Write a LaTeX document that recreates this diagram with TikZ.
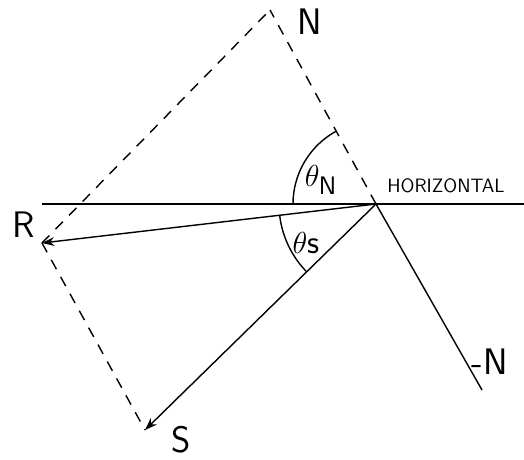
\documentclass[tikz,border=0pt]{standalone}
\usetikzlibrary{arrows.meta}
\tikzset{
  force/.style={line width=0.8pt,-{Stealth[length=7pt,width=5pt]}},
  comp/.style={line width=0.8pt,dash pattern=on 6pt off 5pt},
  lbl/.style={font=\sffamily\fontsize{21}{25}\selectfont},
  anglbl/.style={font=\sffamily\fontsize{19}{23}\selectfont}
}
\begin{document}
\begin{tikzpicture}
  \useasboundingbox (0,0) rectangle (10.48,9.18);
  % points
  \coordinate (O) at (7.52,5.10);
  \coordinate (Ntop) at (5.40,8.98);
  \coordinate (Nneg) at (9.64,1.38);
  \coordinate (Rtip) at (0.84,4.32);
  \coordinate (Stip) at (2.90,0.58);
  \coordinate (Hl) at (0.84,5.10);
  \coordinate (Hr) at (10.48,5.10);
  % horizontal
  \draw[line width=0.9pt] (Hl) -- (Hr);
  \node[font=\sffamily\fontsize{11}{13}\selectfont] (hor) at (8.92,5.46) {HORIZONTAL};
  % normal force line
  \draw[comp] (O) -- (Ntop);
  \draw[line width=0.8pt] (O) -- (Nneg);
  % resultant and tangential part
  \draw[force] (O) -- (Rtip);
  \draw[force] (O) -- (Stip);
  % parallelogram
  \draw[comp] (Rtip) -- (Ntop);
  \draw[comp] (Rtip) -- (Stip);
  % angles
  \draw[line width=0.8pt] (O) ++(118.6:1.66) arc[start angle=118.6,end angle=180,radius=1.66];
  \draw[line width=0.8pt] (O) ++(186.7:1.94) arc[start angle=186.7,end angle=224.4,radius=1.94];
  \node[anglbl] (thN) at (6.42,5.58) {$\theta_{\mathsf{N}}$};
  \node[anglbl] (thS) at (6.12,4.32) {$\theta$s};
  % labels
  \node[lbl] (nN) at (6.20,8.74) {N};
  \node[lbl] (nR) at (0.48,4.68) {R};
  \node[lbl] (nS) at (3.62,0.38) {S};
  \node[lbl] (nNn) at (9.80,1.94) {-N};
\end{tikzpicture}
\end{document}
